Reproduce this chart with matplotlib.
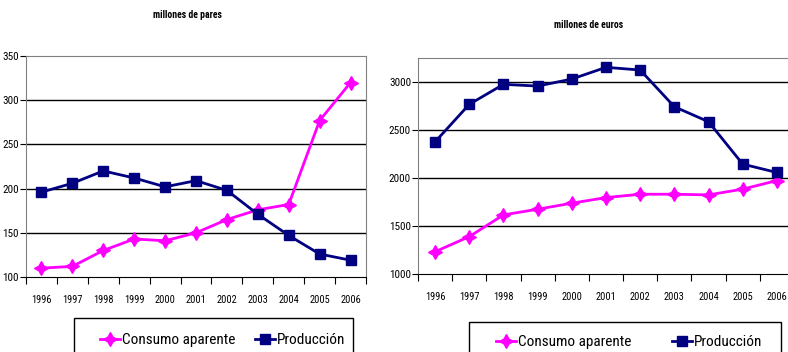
import matplotlib.pyplot as plt
from matplotlib.patches import Rectangle
from matplotlib import font_manager

years = ['1996', '1997', '1998', '1999', '2000', '2001', '2002', '2003', '2004', '2005', '2006']

# millones de pares
consumo_pares = [110, 112, 130, 143, 141, 150, 165, 176, 182, 277, 320]
produccion_pares = [196, 206, 220, 212, 202, 209, 198, 171, 147, 126, 119]

# millones de euros
consumo_euros = [1235, 1392, 1618, 1677, 1740, 1798, 1833, 1833, 1826, 1886, 1975]
produccion_euros = [2378, 2768, 2976, 2958, 3031, 3153, 3125, 2743, 2587, 2146, 2059]


def pick_font():
    names = {f.name for f in font_manager.fontManager.ttflist}
    for fam in ['Liberation Sans Narrow', 'Arial Narrow', 'Roboto Condensed', 'Open Sans Condensed']:
        if fam in names:
            return fam, 'normal'
    for f in font_manager.fontManager.ttflist:
        fn = f.fname.lower()
        if ('condensed' in fn or 'narrow' in fn) and 'sans' in fn and 'mono' not in fn:
            return f.name, f.stretch
    return 'Liberation Sans', 'normal'


fam, stretch = pick_font()
plt.rcParams['font.family'] = [fam, 'DejaVu Sans']
plt.rcParams['font.stretch'] = stretch

pink = '#FF00FF'
navy = '#000080'
star = (4, 1, 0)

fig = plt.figure(figsize=(7.88, 3.52), dpi=100)


def draw(ax, consumo, produccion, ylim, yticks, title, title_xy):
    x = range(len(years))
    ax.plot(x, consumo, color=pink, lw=2, marker=star, ms=10, mec=pink, label='Consumo aparente')
    ax.plot(x, produccion, color=navy, lw=2, marker='s', ms=7.5, mec=navy, label='Producción')
    ax.set_xlim(-0.5, len(years) - 0.5)
    ax.set_ylim(*ylim)
    ax.set_yticks(yticks)
    for v in yticks:
        if ylim[0] < v < ylim[1]:
            ax.axhline(v, color='black', lw=1, zorder=0.5)
    ax.set_xticks([i + 0.5 for i in range(-1, len(years))])
    ax.set_xticklabels([])
    ax.set_xticks(list(x), minor=True)
    ax.set_xticklabels(years, minor=True)
    ax.tick_params(axis='x', which='minor', length=0, pad=13, labelsize=7.5)
    ax.tick_params(axis='x', which='major', length=5, direction='out', color='black')
    ax.tick_params(axis='y', length=4, direction='out', labelsize=8, pad=1)
    for s in ['top', 'right', 'left']:
        ax.spines[s].set_color('#808080')
    ax.spines['bottom'].set_color('black')
    fig.text(title_xy[0], title_xy[1], title, ha='center', va='center',
             fontsize=7, fontweight='bold')


ax1 = fig.add_axes([26 / 788, 1 - 277 / 352, 340 / 788, 221 / 352])
draw(ax1, consumo_pares, produccion_pares, (100, 350), [100, 150, 200, 250, 300, 350],
     'millones de pares', (187 / 788, 1 - 15 / 352))

ax2 = fig.add_axes([418 / 788, 1 - 274.3 / 352, 376 / 788, 216.3 / 352])
draw(ax2, consumo_euros, produccion_euros, (1000, 3250), [1000, 1500, 2000, 2500, 3000],
     'millones de euros', (589 / 788, 1 - 25 / 352))

# legend boxes (cut off by the bottom of the image)
boxes = [((74, 353, 318), (100, 255), 340, ax1), ((469, 781, 322), (496, 672), 342, ax2)]
for (x0, x1, y0), starts, yc, ax in boxes:
    fig.patches.append(Rectangle((x0 / 788, -0.1), (x1 - x0) / 788, (1 - y0 / 352) + 0.1,
                                 transform=fig.transFigure, fill=False,
                                 edgecolor='black', lw=1))
    handles, labels = ax.get_legend_handles_labels()
    for h, l, xs in zip(handles, labels, starts):
        fig.legend([h], [l], loc='center left', bbox_to_anchor=(xs / 788, 1 - yc / 352),
                   frameon=False, fontsize=11, handlelength=1.3, handletextpad=0.15,
                   borderpad=0, borderaxespad=0)

fig.savefig('out.png', dpi=100)
